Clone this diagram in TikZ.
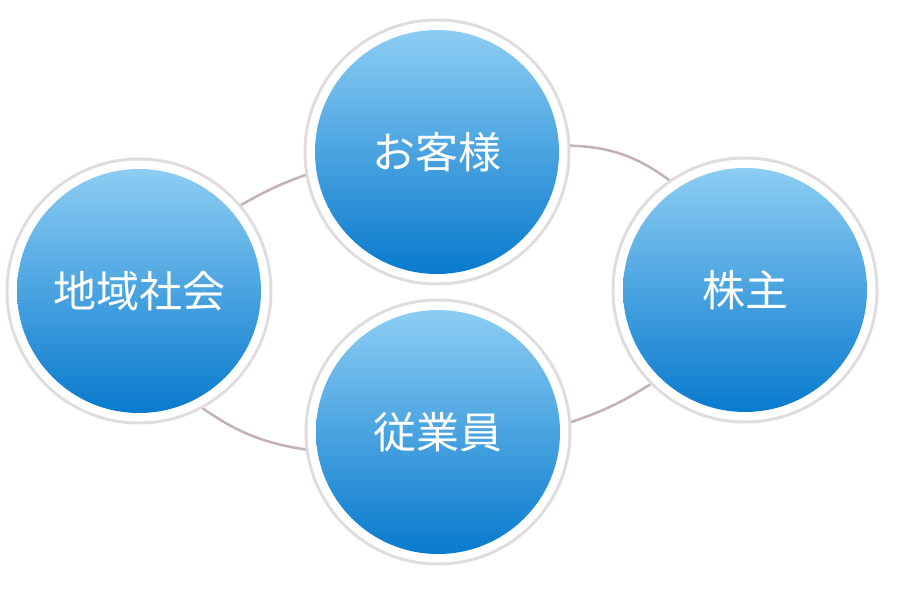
\documentclass[tikz,border=0pt]{standalone}
\usepackage{fontspec}
\newfontfamily\jp{Noto Sans CJK JP}
\usetikzlibrary{backgrounds}
\definecolor{bluetop}{RGB}{140,205,243}
\definecolor{bluebot}{RGB}{8,122,205}
\definecolor{ringgray}{RGB}{224,219,221}
\definecolor{linkcol}{RGB}{196,176,184}
\begin{document}
\begin{tikzpicture}[x=1pt,y=1pt,
  bubble/.style={circle, minimum size=244pt, inner sep=0pt,
    top color=bluetop, bottom color=bluebot, draw=none, text=white,
    font=\jp\fontsize{43}{46}\selectfont,
    preaction={draw=ringgray, line width=23pt},
    preaction={draw=white, line width=17pt}},
  link/.style={draw=linkcol, line width=2.5pt}]
\useasboundingbox (0,0) rectangle (900,600);
\node[bubble] (T) at (437,448) {お客様};
\node[bubble] (L) at (139,309) {地域社会};
\node[bubble] (R) at (745,310) {株主};
\node[bubble] (B) at (438,168) {従業員};
\begin{scope}[on background layer]
  \fill[white] (0,0) rectangle (900,600);
  \draw[link] (L.41) to[bend left=6] (T.189);
  \draw[link] (T.3) to[bend left=20] (R.123);
  \draw[link] (R.226) to[bend left=8] (B.3);
  \draw[link] (B.189) to[bend left=15] (L.296);
\end{scope}
\end{tikzpicture}
\end{document}
